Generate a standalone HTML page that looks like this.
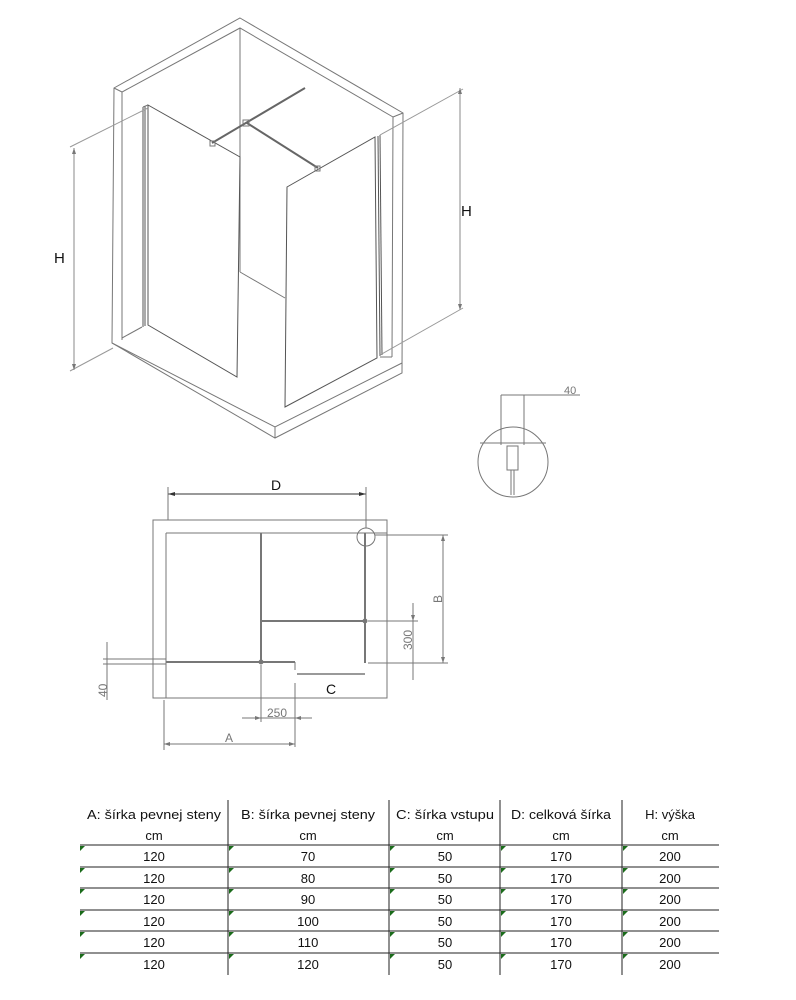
<!DOCTYPE html>
<html><head><meta charset="utf-8"><style>html,body{margin:0;padding:0;background:#fff}svg{display:block}</style></head>
<body>
<svg width="796" height="1000" viewBox="0 0 796 1000" xmlns="http://www.w3.org/2000/svg" font-family="Liberation Sans, sans-serif">
<g fill="none" stroke="#777" stroke-width="1">
<!-- iso outer -->
<polygon points="240,18 403,113 402,373 275,438 112,343 114,88"/>
<polyline points="122,340 122,92 240,28 393,117 392,357"/>
<line x1="114" y1="88" x2="122" y2="92"/>
<line x1="403" y1="113" x2="393" y2="117"/>
<polyline points="112,343 275,427 402,363"/>
<line x1="275" y1="427" x2="275" y2="438"/>
<polyline points="122,338 142,327"/>
<line x1="392" y1="357" x2="380" y2="357"/>
<line x1="240" y1="28" x2="240" y2="272"/>
<line x1="240" y1="272" x2="285" y2="298"/>
<!-- left panel -->
<polygon points="148,105 240,157 237,377 148,325" stroke="#555"/>
<line x1="143" y1="107" x2="143" y2="327" stroke="#555"/>
<line x1="145" y1="106" x2="145" y2="326" stroke="#555"/>
<line x1="143" y1="107" x2="148" y2="105"/>
<!-- right panel -->
<polygon points="287,187 375,137 377,358 285,407" stroke="#555"/>
<line x1="380" y1="135" x2="382" y2="355" stroke="#555"/>
<line x1="378" y1="136" x2="380" y2="356" stroke="#555"/>
<!-- bars -->
<line x1="212" y1="143" x2="305" y2="88" stroke="#666" stroke-width="2"/>
<line x1="247" y1="123" x2="318" y2="168" stroke="#666" stroke-width="2"/>
<rect x="210" y="141" width="5" height="5"/><rect x="315" y="166" width="5" height="5"/><rect x="243" y="120" width="6" height="6"/>
<!-- H dims -->
<line x1="74" y1="148" x2="74" y2="370" stroke="#888"/>
<line x1="70" y1="147" x2="148" y2="108" stroke="#999"/>
<line x1="70" y1="371" x2="113" y2="348" stroke="#999"/>
<line x1="460" y1="88" x2="460" y2="310" stroke="#888"/>
<line x1="463" y1="89" x2="380" y2="135" stroke="#999"/>
<line x1="463" y1="308" x2="380" y2="355" stroke="#999"/>
</g>
<g fill="#777"><polygon points="74,148 72,154 76,154"/><polygon points="74,370 72,364 76,364"/><polygon points="460,88 458,94 462,94"/><polygon points="460,310 458,304 462,304"/></g>
<text x="54" y="263" font-size="15" fill="#111">H</text>
<text x="461" y="216" font-size="15" fill="#111">H</text>

<!-- detail -->
<g fill="none" stroke="#777">
<circle cx="513" cy="462" r="35"/>
<line x1="480" y1="443" x2="546" y2="443"/>
<line x1="501" y1="395" x2="501" y2="445"/><line x1="524" y1="395" x2="524" y2="445"/>
<line x1="501" y1="395" x2="580" y2="395"/>
<rect x="507" y="446" width="11" height="24"/>
<line x1="511" y1="470" x2="511" y2="495"/><line x1="514" y1="470" x2="514" y2="495"/>
</g>
<text x="564" y="394" font-size="11" fill="#777">40</text>

<!-- plan -->
<g fill="none" stroke="#777">
<rect x="153" y="520" width="234" height="178"/>
<line x1="166" y1="533" x2="387" y2="533"/>
<line x1="166" y1="533" x2="166" y2="698"/>
<line x1="261" y1="533" x2="261" y2="663" stroke-width="2"/>
<line x1="166" y1="662" x2="295" y2="662" stroke-width="2"/>
<line x1="295" y1="662" x2="295" y2="670"/>
<line x1="365" y1="533" x2="365" y2="663" stroke-width="2"/>
<line x1="261" y1="621" x2="365" y2="621" stroke-width="2"/>
<circle cx="366" cy="537" r="9"/>
<circle cx="261" cy="662" r="2" fill="#777"/><circle cx="365" cy="621" r="2" fill="#777"/>
<!-- D -->
<line x1="168" y1="494" x2="366" y2="494" stroke="#333"/>
<line x1="168" y1="487" x2="168" y2="520"/><line x1="366" y1="487" x2="366" y2="528"/>
<!-- B -->
<line x1="443" y1="535" x2="443" y2="663"/>
<line x1="375" y1="535" x2="448" y2="535"/><line x1="368" y1="663" x2="448" y2="663"/>
<!-- 300 -->
<line x1="413" y1="603" x2="413" y2="680"/>
<line x1="368" y1="621" x2="418" y2="621"/>
<!-- C -->
<line x1="297" y1="674" x2="365" y2="674" stroke="#333"/>
<!-- 250 -->
<line x1="242" y1="718" x2="312" y2="718"/>
<line x1="261" y1="665" x2="261" y2="722"/><line x1="295" y1="683" x2="295" y2="747"/>
<!-- A -->
<line x1="164" y1="744" x2="295" y2="744"/>
<line x1="164" y1="700" x2="164" y2="750"/>
<!-- 40 -->
<line x1="107" y1="642" x2="107" y2="700"/>
<line x1="103" y1="659" x2="166" y2="659"/><line x1="103" y1="664" x2="166" y2="664"/>
</g>
<g fill="#333"><polygon points="168,494 175,492 175,496"/><polygon points="366,494 359,492 359,496"/></g>
<g fill="#777"><polygon points="443,535 441,541 445,541"/><polygon points="443,663 441,657 445,657"/>
<polygon points="413,621 411,615 415,615"/><polygon points="261,718 255,716 255,720"/><polygon points="295,718 301,716 301,720"/>
<polygon points="164,744 170,742 170,746"/><polygon points="295,744 289,742 289,746"/></g>
<text x="271" y="490" font-size="14" fill="#111">D</text>
<text x="326" y="694" font-size="14" fill="#111">C</text>
<text x="267" y="717" font-size="12" fill="#777">250</text>
<text x="225" y="742" font-size="12" fill="#777">A</text>
<text transform="translate(442,603) rotate(-90)" font-size="12" fill="#777">B</text>
<text transform="translate(412,650) rotate(-90)" font-size="12" fill="#777">300</text>
<text transform="translate(107,697) rotate(-90)" font-size="12" fill="#777">40</text>

<!-- table -->
<g stroke="#222" stroke-width="1">
<line x1="228" y1="800" x2="228" y2="975"/><line x1="389" y1="800" x2="389" y2="975"/>
<line x1="500" y1="800" x2="500" y2="975"/><line x1="622" y1="800" x2="622" y2="975"/>
<line x1="80" y1="845" x2="719" y2="845"/><line x1="80" y1="867" x2="719" y2="867"/>
<line x1="80" y1="888" x2="719" y2="888"/><line x1="80" y1="910" x2="719" y2="910"/>
<line x1="80" y1="931" x2="719" y2="931"/><line x1="80" y1="953" x2="719" y2="953"/>
</g>
<g fill="#1a6b1a">
<polygon points="80,846 85,846 80,851"/><polygon points="229,846 234,846 229,851"/><polygon points="390,846 395,846 390,851"/><polygon points="501,846 506,846 501,851"/><polygon points="623,846 628,846 623,851"/>
<polygon points="80,868 85,868 80,873"/><polygon points="229,868 234,868 229,873"/><polygon points="390,868 395,868 390,873"/><polygon points="501,868 506,868 501,873"/><polygon points="623,868 628,868 623,873"/>
<polygon points="80,889 85,889 80,894"/><polygon points="229,889 234,889 229,894"/><polygon points="390,889 395,889 390,894"/><polygon points="501,889 506,889 501,894"/><polygon points="623,889 628,889 623,894"/>
<polygon points="80,911 85,911 80,916"/><polygon points="229,911 234,911 229,916"/><polygon points="390,911 395,911 390,916"/><polygon points="501,911 506,911 501,916"/><polygon points="623,911 628,911 623,916"/>
<polygon points="80,932 85,932 80,937"/><polygon points="229,932 234,932 229,937"/><polygon points="390,932 395,932 390,937"/><polygon points="501,932 506,932 501,937"/><polygon points="623,932 628,932 623,937"/>
<polygon points="80,954 85,954 80,959"/><polygon points="229,954 234,954 229,959"/><polygon points="390,954 395,954 390,959"/><polygon points="501,954 506,954 501,959"/><polygon points="623,954 628,954 623,959"/>
</g>
<g font-size="13" fill="#111" text-anchor="middle">
<text x="154" y="819" textLength="134" lengthAdjust="spacingAndGlyphs">A: šírka pevnej steny</text>
<text x="308" y="819" textLength="134" lengthAdjust="spacingAndGlyphs">B: šírka pevnej steny</text>
<text x="445" y="819" textLength="98" lengthAdjust="spacingAndGlyphs">C: šírka vstupu</text>
<text x="561" y="819" textLength="100" lengthAdjust="spacingAndGlyphs">D: celková šírka</text>
<text x="670" y="819">H: výška</text>
<text x="154" y="840">cm</text><text x="308" y="840">cm</text><text x="445" y="840">cm</text><text x="561" y="840">cm</text><text x="670" y="840">cm</text>
<text x="154" y="861">120</text><text x="308" y="861">70</text><text x="445" y="861">50</text><text x="561" y="861">170</text><text x="670" y="861">200</text>
<text x="154" y="883">120</text><text x="308" y="883">80</text><text x="445" y="883">50</text><text x="561" y="883">170</text><text x="670" y="883">200</text>
<text x="154" y="904">120</text><text x="308" y="904">90</text><text x="445" y="904">50</text><text x="561" y="904">170</text><text x="670" y="904">200</text>
<text x="154" y="926">120</text><text x="308" y="926">100</text><text x="445" y="926">50</text><text x="561" y="926">170</text><text x="670" y="926">200</text>
<text x="154" y="947">120</text><text x="308" y="947">110</text><text x="445" y="947">50</text><text x="561" y="947">170</text><text x="670" y="947">200</text>
<text x="154" y="969">120</text><text x="308" y="969">120</text><text x="445" y="969">50</text><text x="561" y="969">170</text><text x="670" y="969">200</text>
</g>
</svg>
</body></html>
